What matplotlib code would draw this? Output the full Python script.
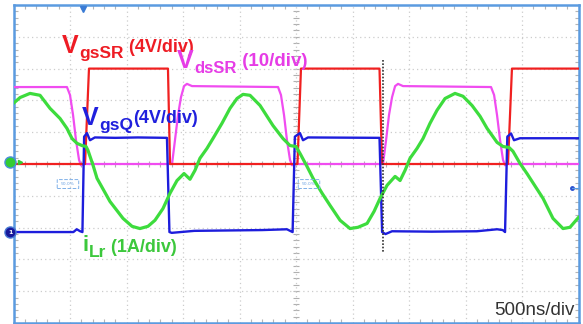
import numpy as np
import matplotlib
matplotlib.use("Agg")
import matplotlib.pyplot as plt
from matplotlib.patches import FancyBboxPatch
from matplotlib.ticker import MultipleLocator

# ---- captured waveforms (time in ns, 500 ns/div) ----
# V_gsSR : synchronous rectifier gate voltage (V)
vgssr_t = [0, 633, 668, 1367, 1385, 2513, 2544, 3239, 3261, 4376, 4411, 5000]
vgssr_v = [0, 0, 12, 12, 0, 0, 12, 12, 0, 0, 12, 12]

# V_dsSR : synchronous rectifier drain-source voltage (V)
vdssr_t = [0, 473, 500, 527, 553, 580, 597, 624, 1403, 1429, 1456, 1482, 1509,
           1535, 1580, 2341, 2367, 2394, 2420, 2447, 2465, 2491, 3270, 3297,
           3323, 3350, 3377, 3403, 3447, 4226, 4253, 4279, 4306, 4332, 4350,
           4376, 5000]
vdssr_v = [24.2, 24.2, 21.7, 15.4, 7.5, 1.3, -0.4, 0, 0, 7.5, 15.4, 21.0, 24.5,
           25.2, 24.5, 24.2, 21.7, 15.4, 7.5, 1.3, -0.4, 0, 0, 7.5,
           15.4, 21.0, 24.5, 25.2, 24.5, 24.2, 21.7, 15.4, 7.5, 1.3, -0.4,
           0, 0]

# V_gsQ : primary switch gate voltage (V)
vgsq_t = [0, 530, 560, 590, 610, 625, 650, 677, 720, 900, 1100, 1358, 1380,
          1400, 1600, 1900, 2200, 2420, 2455, 2470, 2490, 2535, 2562, 2606,
          3239, 3262, 3292, 3350, 3700, 4100, 4280, 4330, 4350, 4370, 4403,
          4429, 4482, 5000]
vgsq_v = [0, 0, 0.35, 0.1, 0, 12.0, 12.45, 11.55, 11.9, 11.85, 11.9, 11.85, 0,
          -0.1, 0.15, 0.2, 0.25, 0.35, 0.1, 0, 12.0, 12.45, 11.55, 11.9,
          11.85, 0, -0.25, 0.1, 0.05, 0.1, 0.35, 0.25, 0, 12.0, 12.4,
          11.55, 11.8, 11.8]

# i_Lr : resonant inductor current (A)
ilr_t = [0, 58, 146, 235, 323, 412, 473, 518, 562, 606, 642, 659, 704, 739,
         854, 969, 1049, 1119, 1190, 1252, 1323, 1385, 1447, 1509, 1562, 1606,
         1650, 1712, 1765, 1845, 1916, 1978, 2031, 2093, 2182, 2296, 2385,
         2447, 2500, 2536, 2598, 2651, 2731, 2801, 2890, 2978, 3049, 3129,
         3191, 3244, 3306, 3377, 3421, 3465, 3509, 3571, 3624, 3686, 3748,
         3819, 3907, 3978, 4058, 4129, 4191, 4279, 4332, 4385, 4420, 4482,
         4544, 4686, 4774, 4863, 4925, 5000]
ilr_a = [1.86, 2.04, 2.17, 2.11, 1.70, 1.38, 1.07, 0.75, 0.60, 0.53, 0.50, 0.38,
         -0.09, -0.50, -1.23, -1.76, -2.01, -2.08, -2.01, -1.82, -1.45, -0.97,
         -0.57, -0.35, -0.53, -0.25, 0.13, 0.44, 0.75, 1.23, 1.70, 2.01, 2.14,
         2.11, 1.79, 1.16, 0.75, 0.53, 0.50, 0.28, -0.13, -0.50, -0.97, -1.35,
         -1.82, -2.08, -2.04, -1.92, -1.54, -1.13, -0.72, -0.44, -0.57, -0.25,
         0.13, 0.44, 0.75, 1.23, 1.64, 2.01, 2.17, 2.08, 1.79, 1.45, 1.07, 0.63,
         0.50, 0.47, 0.35, -0.03, -0.35, -1.13, -1.76, -2.08, -2.04, -1.73]

# channel settings: (units per division, ground offset in divisions)
CH_VGSSR = (4.0, 0.0)
CH_VDSSR = (10.0, 0.0)
CH_VGSQ = (4.0, -2.14)
CH_ILR = (1.0, 0.05)

TIME_PER_DIV = 500
CURSOR_T = 3270

C_RED = "#f02020"
C_MAG = "#f04cf0"
C_BLUE = "#1d1ddc"
C_GREEN = "#3ddc3d"
C_FRAME = "#5b9be0"

W, H = 583, 324
fig = plt.figure(figsize=(W / 100, H / 100), dpi=100)
fig.patch.set_facecolor("white")
ax = fig.add_axes([13.5 / W, 1 - 323 / H, 565 / W, 318 / H])
ax.set_xlim(0, 10 * TIME_PER_DIV)
ax.set_ylim(-5, 5)

# graticule
ax.set_xticks(np.arange(0, 10 * TIME_PER_DIV + 1, TIME_PER_DIV))
ax.set_yticks(np.arange(-5, 6, 1))
ax.xaxis.set_minor_locator(MultipleLocator(TIME_PER_DIV / 5))
ax.yaxis.set_minor_locator(MultipleLocator(0.2))
ax.tick_params(which="both", direction="in", top=True, right=True,
               labelbottom=False, labelleft=False, color="#b5b5b5")
ax.tick_params(which="major", length=0)
ax.tick_params(which="minor", length=3, width=0.8)
ax.grid(True, which="major", color="#cccccc", linestyle=(0, (1, 2.5)), lw=0.9)
for sp in ax.spines.values():
    sp.set_color(C_FRAME)
    sp.set_linewidth(1.8)

# centre cross with small division marks
xc = 5 * TIME_PER_DIV
ym = np.arange(-5, 5.01, 0.2)
xm = np.arange(0, 10 * TIME_PER_DIV + 1, TIME_PER_DIV / 5)
ax.plot(np.full_like(ym, xc), ym, ls="none", marker="_", ms=4, mew=0.8,
        color="#b0b0b0", zorder=1)
ax.plot(xm, np.zeros_like(xm), ls="none", marker="|", ms=4, mew=0.8,
        color="#b0b0b0", zorder=1)


def trace(t, v, ch, color, lw, z):
    scale, off = ch
    ax.plot(t, np.asarray(v) / scale + off, color=color, lw=lw, zorder=z,
            solid_joinstyle="round")


trace(vdssr_t, vdssr_v, CH_VDSSR, C_MAG, 1.6, 3)
trace(vgssr_t, vgssr_v, CH_VGSSR, C_RED, 1.6, 4)
trace(vgsq_t, vgsq_v, CH_VGSQ, C_BLUE, 1.7, 5)
trace(ilr_t, ilr_a, CH_ILR, C_GREEN, 2.3, 6)

# cursor
ax.plot([CURSOR_T, CURSOR_T], [3.27, -2.77], color="#333333", lw=1.2,
        ls=(0, (1, 1)), zorder=7)

# 50 % level tags
for tx in (482, 2615):
    ax.add_patch(FancyBboxPatch((tx - 95, -0.75), 190, 0.24,
                                boxstyle="round,pad=0.02,rounding_size=0.1",
                                fill=False, ec="#7fb0e8", lw=0.7, ls="--",
                                zorder=8, mutation_aspect=1))
    ax.text(tx, -0.63, "50.0%", fontsize=3.2, color="#6ea4e4", ha="center",
            va="center", zorder=8)

# trigger markers
ax.plot([615], [4.88], marker="v", ms=4.5, color="#3a7bd5", clip_on=False,
        zorder=9)
ax.plot([0.988], [0.425], transform=ax.transAxes, marker="o", ms=2.5,
        color="#2a4fd0", clip_on=False, zorder=9)
ax.plot([0.988, 1.0], [0.425, 0.425], transform=ax.transAxes, lw=0.8,
        color="#5b9be0", clip_on=False, zorder=9)

# channel ground markers
ax.plot([-0.006], [CH_ILR[1] / 10 + 0.5], transform=ax.transAxes, marker="o",
        ms=8, mfc="#33cc33", mec="#4a8fdc", mew=1.0, clip_on=False, zorder=9)
ax.plot([0.012], [CH_ILR[1] / 10 + 0.5], transform=ax.transAxes, marker=">",
        ms=3, color="#33cc33", clip_on=False, zorder=9)
ax.plot([-0.006], [CH_VGSQ[1] / 10 + 0.5], transform=ax.transAxes, marker="o",
        ms=8, mfc="#18189a", mec="#4a7bd5", mew=1.0, clip_on=False, zorder=9)
ax.text(-0.006, CH_VGSQ[1] / 10 + 0.5, "1", transform=ax.transAxes,
        fontsize=4.5, color="white", ha="center", va="center",
        fontweight="bold", zorder=10)

# labels built from pieces (text, size, baseline shift in px)
fig.canvas.draw()
renderer = fig.canvas.get_renderer()


def label(x0, base, pieces, color):
    x = x0
    for s, size, dy in pieces:
        t = fig.text(x / W, 1 - (base + dy) / H, s, fontsize=size,
                     family="Liberation Sans", fontweight="bold",
                     color=color, ha="left", va="baseline", zorder=20)
        x += t.get_window_extent(renderer).width + 0.5


label(62, 53, [("V", 18, 0), ("gsSR", 12.5, 5), (" (4V/div)", 13, -1)],
      "#ee1c24")
label(177, 68, [("V", 18, 0), ("dsSR", 12, 5), (" (10/div)", 13.5, -2)],
      "#e63ce6")
label(82, 125, [("V", 18, 0), ("gsQ", 12.5, 5), ("(4V/div)", 13, -2)],
      "#2020dd")
label(82, 251, [("i", 16, 0), ("Lr", 12.5, 6), (" (1A/div)", 13, 1)],
      "#3cc83c")

fig.text(575 / W, 1 - 315 / H, "500ns/div", fontsize=13.5,
         family="Liberation Sans", color="#333333", ha="right",
         va="baseline")

fig.savefig("out.png", dpi=100)
